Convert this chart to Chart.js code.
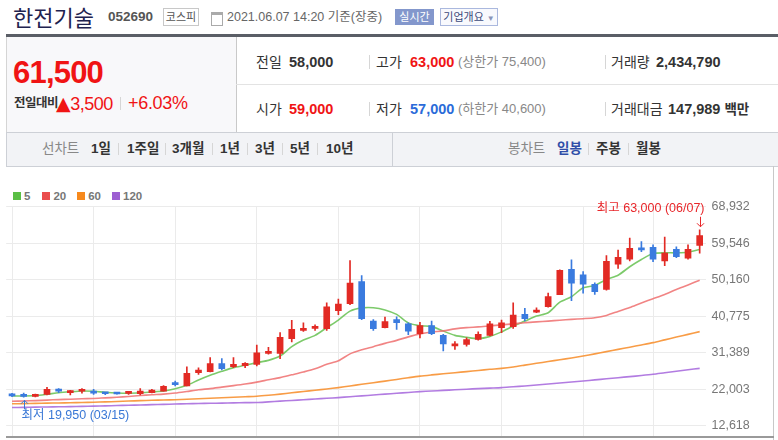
<!DOCTYPE html>
<html lang="ko">
<head>
<meta charset="utf-8">
<script src="https://cdn.jsdelivr.net/npm/chart.js@4.4.1/dist/chart.umd.min.js"></script>
<style>
  html, body { margin: 0; padding: 0; background: #fff; }
  body { width: 778px; height: 440px; position: relative; overflow: hidden;
         font-family: "Liberation Sans", "Noto Sans CJK KR", sans-serif; color: #333; }
  .a { position: absolute; white-space: nowrap; }
  .sep { position: absolute; width: 1px; background: #d6d6d6; }
  #chartBox { position: absolute; left: 0; top: 188px; width: 778px; height: 262px; }
</style>
</head>
<body>
<!-- title row -->
<div class="a" style="left:13px;top:1px;font-size:22px;line-height:30px;color:#1f2350;font-family:'Noto Sans CJK KR',sans-serif;">한전기술</div>
<div class="a" style="left:108px;top:7px;font-size:13.5px;line-height:20px;font-weight:bold;color:#555;">052690</div>
<div class="a" style="left:163px;top:8px;width:34px;height:16px;border:1px solid #c8c8c8;font-size:11px;line-height:16px;text-align:center;color:#555;">코스피</div>
<div class="a" style="left:211px;top:12px;width:10px;height:10px;border:1px solid #aaa;border-top-width:3px;"></div>
<div class="a" style="left:227px;top:7px;font-size:12.5px;line-height:20px;color:#666;">2021.06.07 14:20 기준(장중)</div>
<div class="a" style="left:395px;top:9px;width:39px;height:16px;background:#8397cc;color:#fff;font-size:11px;line-height:16px;text-align:center;">실시간</div>
<div class="a" style="left:440px;top:8px;width:56px;height:16px;border:1px solid #aab8de;background:#f8f9fd;color:#3c4a7a;font-size:11px;line-height:16px;text-align:center;">기업개요 <span style="font-size:8px;color:#8894b8;">▼</span></div>

<!-- dark rule -->
<div class="a" style="left:6px;top:34px;width:772px;height:3px;background:#5a5e66;"></div>

<!-- summary box -->
<div class="a" style="left:6px;top:37px;width:229px;height:95px;background:#f8f8fa;border-right:1px solid #c9c9c9;border-left:1px solid #d5d5d5;"></div>
<div class="a" style="left:236px;top:84px;width:542px;height:1px;background:#e3e3e3;"></div>
<div class="a" style="left:13px;top:55px;font-size:31px;line-height:36px;font-weight:bold;color:#f01414;letter-spacing:-0.8px;">61,500</div>
<div class="a" style="left:14px;top:93px;font-size:12.5px;line-height:20px;font-weight:bold;color:#333;letter-spacing:-0.5px;">전일대비</div>
<div class="a" style="left:56px;top:91px;font-size:18px;line-height:24px;color:#f01414;letter-spacing:-0.5px;"><span style="font-size:19px;font-family:'DejaVu Sans',sans-serif;">▲</span>3,500</div>
<div class="sep" style="left:120px;top:97px;height:13px;"></div>
<div class="a" style="left:128px;top:91px;font-size:18px;line-height:24px;color:#f01414;letter-spacing:-0.3px;">+6.03%</div>

<div class="a" style="left:256px;top:52px;font-size:14px;line-height:20px;color:#333;">전일</div>
<div class="a" style="left:289px;top:52px;font-size:14.5px;line-height:20px;font-weight:bold;color:#333;">58,000</div>
<div class="sep" style="left:369px;top:55px;height:14px;"></div>
<div class="a" style="left:376px;top:52px;font-size:14px;line-height:20px;color:#333;">고가</div>
<div class="a" style="left:410px;top:52px;font-size:14.5px;line-height:20px;font-weight:bold;color:#f01414;">63,000</div>
<div class="a" style="left:458px;top:52px;font-size:13px;line-height:20px;color:#888;">(상한가 75,400)</div>
<div class="sep" style="left:605px;top:55px;height:14px;"></div>
<div class="a" style="left:611px;top:52px;font-size:14px;line-height:20px;color:#333;">거래량</div>
<div class="a" style="left:656px;top:52px;font-size:14.5px;line-height:20px;font-weight:bold;color:#333;">2,434,790</div>

<div class="a" style="left:256px;top:99px;font-size:14px;line-height:20px;color:#333;">시가</div>
<div class="a" style="left:289px;top:99px;font-size:14.5px;line-height:20px;font-weight:bold;color:#f01414;">59,000</div>
<div class="sep" style="left:369px;top:102px;height:14px;"></div>
<div class="a" style="left:376px;top:99px;font-size:14px;line-height:20px;color:#333;">저가</div>
<div class="a" style="left:410px;top:99px;font-size:14.5px;line-height:20px;font-weight:bold;color:#2b6bd9;">57,000</div>
<div class="a" style="left:458px;top:99px;font-size:13px;line-height:20px;color:#888;">(하한가 40,600)</div>
<div class="sep" style="left:605px;top:102px;height:14px;"></div>
<div class="a" style="left:611px;top:99px;font-size:14px;line-height:20px;color:#333;">거래대금</div>
<div class="a" style="left:668px;top:99px;font-size:14.5px;line-height:20px;font-weight:bold;color:#333;">147,989 <span style="font-weight:bold;font-size:13.5px;">백만</span></div>

<!-- tab bar -->
<div class="a" style="left:6px;top:132px;width:771px;height:33px;background:#f2f3f6;border:1px solid #cdd0d6;border-right:none;"></div>
<div class="sep" style="left:392px;top:133px;height:33px;background:#cdd0d6;"></div>
<div class="a" style="left:42px;top:139px;font-size:13.5px;line-height:20px;color:#888;">선차트</div>
<div class="a" style="left:91px;top:139px;font-size:13.5px;line-height:20px;font-weight:bold;color:#333;">1일</div>
<div class="sep" style="left:118px;top:143px;height:12px;"></div>
<div class="a" style="left:127px;top:139px;font-size:13.5px;line-height:20px;font-weight:bold;color:#333;">1주일</div>
<div class="sep" style="left:165px;top:143px;height:12px;"></div>
<div class="a" style="left:172px;top:139px;font-size:13.5px;line-height:20px;font-weight:bold;color:#333;">3개월</div>
<div class="sep" style="left:212px;top:143px;height:12px;"></div>
<div class="a" style="left:220px;top:139px;font-size:13.5px;line-height:20px;font-weight:bold;color:#333;">1년</div>
<div class="sep" style="left:247px;top:143px;height:12px;"></div>
<div class="a" style="left:255px;top:139px;font-size:13.5px;line-height:20px;font-weight:bold;color:#333;">3년</div>
<div class="sep" style="left:282px;top:143px;height:12px;"></div>
<div class="a" style="left:290px;top:139px;font-size:13.5px;line-height:20px;font-weight:bold;color:#333;">5년</div>
<div class="sep" style="left:317px;top:143px;height:12px;"></div>
<div class="a" style="left:326px;top:139px;font-size:13.5px;line-height:20px;font-weight:bold;color:#333;">10년</div>
<div class="a" style="left:508px;top:139px;font-size:13.5px;line-height:20px;color:#888;">봉차트</div>
<div class="a" style="left:557px;top:139px;font-size:13.5px;line-height:20px;font-weight:bold;color:#2f4ea8;">일봉</div>
<div class="sep" style="left:588px;top:143px;height:12px;"></div>
<div class="a" style="left:596px;top:139px;font-size:13.5px;line-height:20px;font-weight:bold;color:#333;">주봉</div>
<div class="sep" style="left:628px;top:143px;height:12px;"></div>
<div class="a" style="left:636px;top:139px;font-size:13.5px;line-height:20px;font-weight:bold;color:#333;">월봉</div>

<!-- chart frame -->
<div class="a" style="left:773px;top:166px;width:1px;height:274px;background:#c8c8c8;"></div>
<div id="legend" class="a" style="left:13px;top:188px;font-size:11.5px;line-height:16px;font-weight:bold;color:#777;"></div>
<div id="chartBox"><canvas id="stockChart"></canvas></div>
<div class="a" style="left:6px;top:436px;width:768px;height:2px;background:#9a9a9a;"></div>

<script>
// trading days shown (MM/DD)
const dates = ['03/12','03/15','03/16','03/17','03/18','03/19','03/22','03/23','03/24','03/25',
  '03/26','03/29','03/30','03/31','04/01','04/02','04/05','04/06','04/07','04/08',
  '04/09','04/12','04/13','04/14','04/15','04/16','04/19','04/20','04/21','04/22',
  '04/23','04/26','04/27','04/28','04/29','04/30','05/03','05/04','05/06','05/07',
  '05/10','05/11','05/12','05/13','05/14','05/17','05/18','05/20','05/21','05/24',
  '05/25','05/26','05/27','05/28','05/31','06/01','06/02','06/03','06/04','06/07'];

const openP = [20650,20500,20150,20700,21800,21150,21500,21550,20950,20900,
  20950,20850,21150,21500,23700,22900,26300,26550,28600,27800,
  28100,28400,31250,31250,35000,37150,37650,37600,42200,44000,
  49700,39550,37850,39950,38850,36300,38400,35850,33150,33550,
  34850,35850,37850,38100,41250,41850,43250,46350,52850,51400,
  49000,47650,54150,55450,58250,58500,55000,58000,55700,59000];
const highP = [20950,21050,20800,22500,22200,21750,22200,22000,21250,20950,
  21400,22200,22000,22950,24100,27800,27550,30150,29900,30150,
  28850,33350,32800,36550,39700,39100,38600,44250,45200,55100,
  51200,39900,40550,40650,39100,39200,39550,36100,34250,35250,
  36800,39450,39800,44250,42800,42950,46700,52700,55250,52250,
  49350,56400,57800,60850,59950,59100,61100,58650,59100,63000];
const lowP = [20100,19950,20050,20550,21150,20550,21000,20700,20650,20750,
  20700,20550,21050,21500,22850,22850,25850,26500,26950,27550,
  27550,28000,31000,29900,34150,36900,37150,37150,41150,43750,
  39900,37150,37800,37400,36050,35200,36050,31850,32250,33100,
  34650,35700,36550,37650,39550,41700,43100,46300,44800,46700,
  46400,47500,53100,55000,57400,54800,53750,55850,55450,57000];
const closeP = [20300,20200,20700,22000,21550,21550,21700,21000,20850,20800,
  21100,21550,21800,22750,23200,26100,26950,28600,27300,28400,
  28700,31400,31500,35350,37400,37400,37850,43200,43900,49300,
  40150,37600,39400,39100,36950,38350,36300,33650,33400,34750,
  36100,38850,39100,41050,40150,42250,45850,52600,49300,49000,
  47100,54900,55950,58250,57850,55450,57000,56100,58000,61500];

// moving averages as drawn on the chart
const ma5 = [20280,20280,20390,20720,21100,21360,21570,21490,21230,21050,
  20980,21100,21310,21570,22130,23030,24390,25600,26620,27570,
  28160,28850,29440,30550,32960,34650,35860,37840,39790,42090,
  42920,42970,42400,41250,39070,38350,38170,36960,35860,35350,
  35010,35600,36760,38250,39530,40810,41680,44400,45790,48100,
  48690,50230,51330,53490,55360,56900,57080,57080,57230,57930];
const ma20 = [18920,19000,19100,19230,19360,19460,19570,19640,19800,19950,
  20160,20390,20590,20770,21030,21440,21880,22180,22570,22950,
  23360,23850,24440,25010,25720,26440,27260,28420,29320,31110,
  32140,32960,33810,34580,35480,36240,36710,37010,37530,37860,
  38040,38300,38550,38810,39120,39320,39530,39760,39970,40150,
  40400,40990,42020,43040,44200,45280,46380,47660,48820,50050];
const ma60 = [18280,18330,18390,18440,18490,18540,18620,18670,18770,18870,
  18980,19080,19180,19260,19330,19440,19570,19690,19820,19950,
  20080,20210,20460,20770,21110,21440,21750,22080,22440,22850,
  23290,23700,24110,24540,24980,25390,25700,25980,26260,26550,
  26850,27140,27390,27750,28210,28680,29140,29600,30060,30550,
  31110,31680,32270,32830,33400,33990,34710,35420,36120,36830];
const ma120 = [17310,17360,17410,17460,17510,17560,17620,17670,17740,17820,
  17900,17970,18050,18130,18210,18280,18360,18410,18460,18510,
  18570,18590,18770,18950,19130,19330,19510,19690,19870,20100,
  20310,20540,20750,20980,21180,21410,21570,21720,21880,22030,
  22180,22310,22440,22650,22850,23110,23360,23620,23880,24130,
  24420,24700,24980,25260,25540,25850,26240,26620,27010,27390];

const yTicks = [68932, 59546, 50160, 40775, 31389, 22003, 12618];
const gridDates = ['03/12','03/23','04/01','04/12','04/21','04/30','05/12','05/24','06/01'];

const maNames = ['5', '20', '60', '120'];
const maLegendColors = ['#5bbf45', '#ea4d4d', '#f7891c', '#9d5fd2'];
const maLineColors = ['rgba(110,196,90,0.9)', 'rgba(238,110,110,0.85)', 'rgba(247,145,50,0.9)', 'rgba(170,110,222,0.9)'];

const UP = '#e22a24';
const DOWN = '#3a7bdf';
const fmt = n => n.toLocaleString('en-US');

// legend in html
document.getElementById('legend').innerHTML = maNames.map((n, i) =>
  '<span style="display:inline-block;width:8px;height:8px;background:' + maLegendColors[i] +
  ';margin-right:3px;vertical-align:-0px;"></span><span style="margin-right:' + (i === 0 ? 12 : 11) + 'px;">' + n + '</span>'
).join('');

const candleColors = closeP.map((c, i) => c >= openP[i] ? UP : DOWN);

// high / low markers
const markerPlugin = {
  id: 'markers',
  afterDatasetsDraw(chart) {
    const { ctx, scales: { x, y } } = chart;
    const hiIdx = highP.indexOf(Math.max(...highP));
    const loIdx = lowP.indexOf(Math.min(...lowP));
    ctx.save();
    ctx.font = '12.5px "Liberation Sans", "Noto Sans CJK KR", sans-serif';
    ctx.textBaseline = 'middle';
    ctx.lineWidth = 1;

    // highest
    let px = Math.round(x.getPixelForValue(hiIdx)) + 0.5;
    let py = y.getPixelForValue(highP[hiIdx]);
    ctx.fillStyle = '#e8262a';
    ctx.strokeStyle = '#e8262a';
    ctx.textAlign = 'right';
    ctx.fillText('최고 ' + fmt(highP[hiIdx]) + ' (' + dates[hiIdx] + ')', px + 4, py - 21);
    ctx.beginPath();
    ctx.moveTo(px, py - 13); ctx.lineTo(px, py - 3);
    ctx.moveTo(px - 3.5, py - 6.5); ctx.lineTo(px, py - 3); ctx.lineTo(px + 3.5, py - 6.5);
    ctx.stroke();

    // lowest
    px = Math.round(x.getPixelForValue(loIdx)) + 0.5;
    py = y.getPixelForValue(lowP[loIdx]);
    ctx.fillStyle = '#3a78d6';
    ctx.strokeStyle = '#3a78d6';
    ctx.textAlign = 'left';
    ctx.fillText('최저 ' + fmt(lowP[loIdx]) + ' (' + dates[loIdx] + ')', px - 3, py + 18);
    ctx.beginPath();
    ctx.moveTo(px, py + 3); ctx.lineTo(px, py + 12);
    ctx.moveTo(px - 3.5, py + 6.5); ctx.lineTo(px, py + 3); ctx.lineTo(px + 3.5, py + 6.5);
    ctx.stroke();
    ctx.restore();
  }
};

const maData = [ma5, ma20, ma60, ma120];
const lineSets = maData.map((d, i) => ({
  type: 'line',
  label: 'MA' + maNames[i],
  data: d,
  borderColor: maLineColors[i],
  borderWidth: 1.6,
  pointRadius: 0,
  tension: 0.25,
  order: 10 - i
}));

const config = {
  type: 'bar',
  data: {
    labels: dates,
    datasets: [
      ...lineSets,
      {
        label: 'wick',
        data: dates.map((d, i) => [lowP[i], highP[i]]),
        backgroundColor: candleColors,
        barThickness: 1,
        grouped: false,
        order: 2
      },
      {
        label: 'body',
        data: dates.map((d, i) => [openP[i], closeP[i]]),
        backgroundColor: candleColors,
        barThickness: 6,
        minBarLength: 2,
        grouped: false,
        order: 1
      }
    ]
  },
  options: {
    responsive: true,
    maintainAspectRatio: false,
    animation: false,
    layout: { padding: { left: 6.2, right: 0, top: 18.7, bottom: 3 } },
    plugins: { legend: { display: false }, tooltip: { enabled: false } },
    scales: {
      x: {
        offset: true,
        ticks: { display: false },
        border: { display: false },
        afterFit: s => { s.height = 0; },
        grid: {
          offset: false,
          drawTicks: false,
          color: c => gridDates.includes(dates[c.index]) ? '#ebebeb' : 'rgba(0,0,0,0)'
        }
      },
      y: {
        position: 'right',
        min: 9870,
        max: 68932,
        afterBuildTicks: s => { s.ticks = yTicks.map(v => ({ value: v })); },
        afterFit: s => { s.width = 72.5; },
        border: { display: false },
        grid: { color: '#ebebeb', drawTicks: false },
        ticks: {
          padding: 6,
          color: '#777',
          font: { family: '"Liberation Sans", sans-serif', size: 12.5 },
          callback: v => fmt(v)
        }
      }
    }
  },
  plugins: [markerPlugin]
};

const stockChart = new Chart(document.getElementById('stockChart'), config);
</script>
</body>
</html>
